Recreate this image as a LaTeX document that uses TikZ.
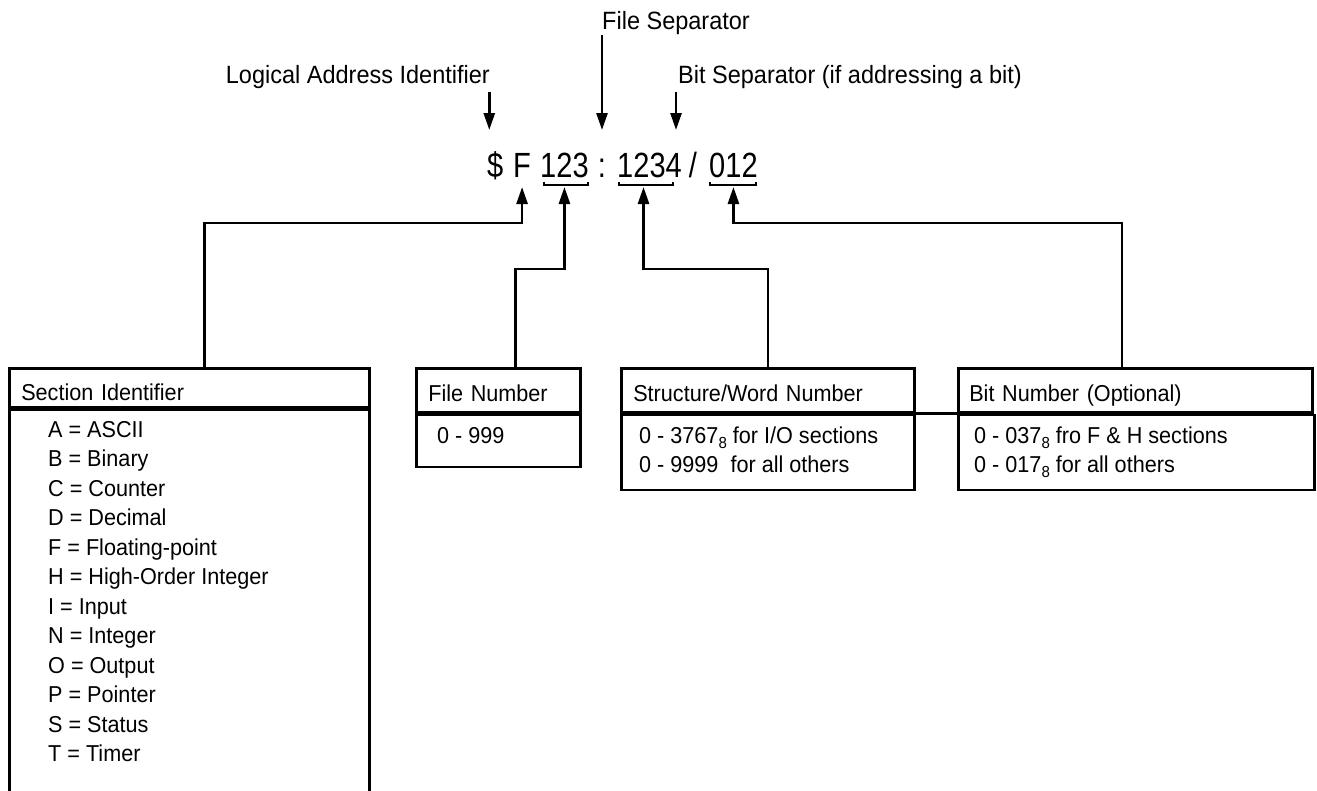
\documentclass[tikz,border=0pt]{standalone}
\usepackage{fontspec}
\setmainfont{Liberation Sans}[FakeStretch=0.94]
\newfontfamily\addrfont{Liberation Sans}[FakeStretch=0.83]
\usetikzlibrary{arrows.meta,calc}

\newcommand\lblsize{\fontsize{23}{28}\selectfont}
\newcommand\toplblsize{\fontsize{25}{30}\selectfont}
\newcommand\octsub[1]{\raisebox{-5pt}{\fontsize{16}{16}\selectfont #1}}
% small bracket under a group of digits: node, left inset, right inset
\newcommand\underbrk[3]{%
  \draw[brk] ([xshift=#2,yshift=-5pt]#1.base west) -- ++(0,3)
    -| ([xshift=#3,yshift=-5pt]#1.base east);}

\tikzset{
  lbl/.style={font=\lblsize, inner sep=0pt},
  toplbl/.style={font=\toplblsize, inner sep=0pt},
  addr/.style={font=\addrfont\fontsize{35}{40}\selectfont, inner sep=0pt},
  hdr/.style={draw, line width=2.6pt, anchor=north west, minimum height=44pt,
    inner xsep=12pt, inner ysep=0pt, text height=22pt, text depth=0pt,
    align=left, font=\lblsize},
  bodybox/.style={draw, line width=2.6pt, anchor=north west, inner sep=0pt},
  arr/.style={line width=2.6pt, -{Triangle[length=17pt,width=11pt]}},
  link/.style={line width=2.6pt},
  brk/.style={line width=1.6pt},
}

\begin{document}
\begin{tikzpicture}[x=1pt,y=-1pt]
\clip (0,0) rectangle (1317,790);

% the address
\node[addr, anchor=base west] (tokDollar) at (487,177) {\$};
\node[addr, anchor=base west] (tokF) at (513,177) {F};
\node[addr, anchor=base west] (tok123) at (540,177) {123};
\node[addr, anchor=base] (tokColon) at (602,177) {:};
\node[addr, anchor=base west] (tok1234) at (617,177) {1234};
\node[addr, anchor=base] (tokSlash) at (693,177) {/};
\node[addr, anchor=base west] (tok012) at (709,177) {012};

\underbrk{tok123}{4pt}{-1pt}
\underbrk{tok1234}{2pt}{-9pt}
\underbrk{tok012}{1pt}{-2pt}

% separator labels above the address
\node[toplbl, anchor=base west] (lblFile) at (602,29) {File Separator};
\node[toplbl, anchor=base east] (lblLog) at (490,83) {Logical Address Identifier};
\node[toplbl, anchor=base west] (lblBit) at (678,83) {Bit Separator (if addressing a bit)};

\coordinate (tipLog) at ([xshift=-6pt,yshift=47pt]tokDollar.base);
\coordinate (tipSep) at ([yshift=47pt]tokColon.base);
\coordinate (tipBit) at ([xshift=-6pt,yshift=47pt]tok1234.base east);

\draw[arr, shorten <=4pt] (lblLog.south -| tipLog) -- (tipLog);
\draw[arr, shorten <=1pt] (lblFile.south -| tipSep) -- (tipSep);
\draw[arr, shorten <=4pt] (lblBit.south -| tipBit) -- (tipBit);

% field boxes
\node[hdr, text width=336pt, minimum height=38.6pt, text height=25pt]
  (secH) at (8,367) {Section Identifier};
\node[bodybox, minimum width=360pt, minimum height=440pt] (secB) at (secH.south west) {};

\node[hdr, text width=140pt] (fileH) at (415,367) {File Number};
\node[bodybox, minimum width=164pt, minimum height=52pt] (fileB) at (fileH.south west) {};

\node[hdr, text width=269pt] (structH) at (620,367) {Structure/Word Number};
\node[bodybox, minimum width=293pt, minimum height=75pt] (structB) at (structH.south west) {};

\node[hdr, text width=332pt, inner xsep=11pt] (bitH) at (957,367) {Bit Number (Optional)};
\node[bodybox, minimum width=356pt, minimum height=75pt] (bitB) at (bitH.south west) {};

\draw[link] (structH.south east) -- (bitH.south west);

% box contents
\foreach \t [count=\i] in {A = ASCII, B = Binary, C = Counter, D = Decimal,
    F = Floating-point, H = High-Order Integer, I = Input, N = Integer,
    O = Output, P = Pointer, S = Status, T = Timer}
  \node[lbl, anchor=base west] (sec\i) at (48,{437+29.5*(\i-1)}) {\t};

\node[lbl, anchor=base west] (fileV) at (437,443) {0 - 999};
\node[lbl, anchor=base west] (structV1) at (639,443) {0 - 3767\octsub{8} for I/O sections};
\node[lbl, anchor=base west] (structV2) at (639,472) {0 - 9999\ \ for all others};
\node[lbl, anchor=base west] (bitV1) at (974,443) {0 - 037\octsub{8} fro F \& H sections};
\node[lbl, anchor=base west] (bitV2) at (974,472) {0 - 017\octsub{8} for all others};

% connectors from the boxes up to the address fields
\coordinate (levelHi) at (0,223);
\coordinate (levelLo) at (0,269);
\coordinate (tipF) at ([yshift=-10pt]tokF.base);
\coordinate (tip123) at ([yshift=-10pt]tok123.base);
\coordinate (tip1234) at ([xshift=-6pt,yshift=-10pt]tok1234.base);
\coordinate (tip012) at ([yshift=-10pt]tok012.base);

\draw[arr] ($(secH.north west)!0.542!(secH.north east)$) |- (levelHi -| tipF) -- (tipF);
\draw[arr] ($(fileH.north west)!0.604!(fileH.north east)$) |- (levelLo -| tip123) -- (tip123);
\draw[arr] (structH.north) |- (levelLo -| tip1234) -- (tip1234);
\draw[arr] ($(bitH.north west)!0.463!(bitH.north east)$) |- (levelHi -| tip012) -- (tip012);
\end{tikzpicture}
\end{document}
